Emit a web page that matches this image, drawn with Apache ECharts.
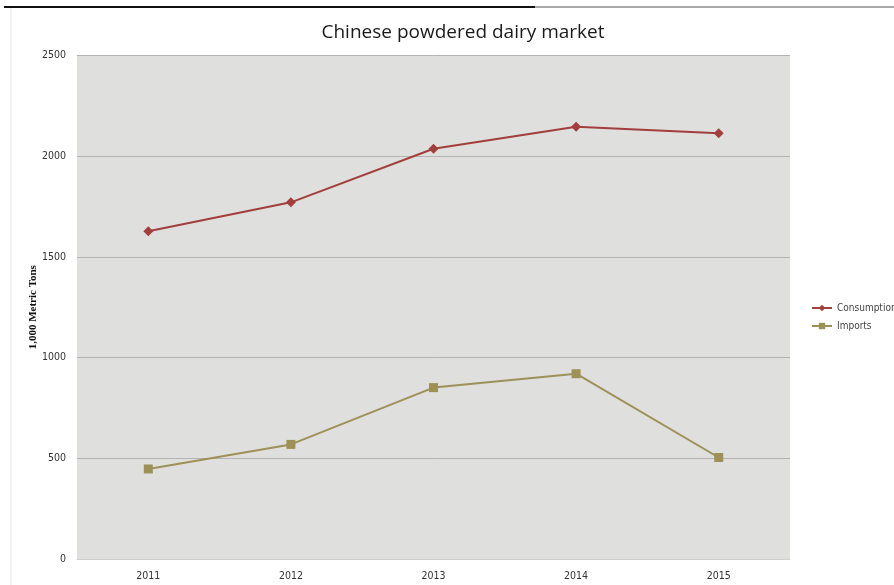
<!DOCTYPE html>
<html><head><meta charset="utf-8">
<script src="https://cdn.jsdelivr.net/npm/echarts@6/dist/echarts.min.js"></script>
<style>html,body{margin:0;padding:0;background:#fff}#c{width:894px;height:585px}</style>
</head><body><div id="c"></div>
<script>
const categories = ['2011','2012','2013','2014','2015'];
const consumption = [1627, 1771, 2037, 2146, 2114];
const imports = [447, 569, 851, 920, 504];
const yTicks = [0, 500, 1000, 1500, 2000, 2500];

const chart = echarts.init(document.getElementById('c'));
chart.setOption({
  backgroundColor: '#ffffff',
  animation: false,
  title: {
    text: 'Chinese powdered dairy market',
    left: 458, top: 18, textAlign: 'center',
    textStyle: {fontFamily: 'Open Sans', fontWeight: 'normal', fontSize: 19, color: '#1a1a1a'}
  },
  graphic: [
    {type: 'line', shape: {x1: 4, y1: 7, x2: 535, y2: 7}, style: {stroke: '#111', lineWidth: 2}},
    {type: 'line', shape: {x1: 535, y1: 7, x2: 894, y2: 7}, style: {stroke: '#555', lineWidth: 1}},
    {type: 'line', shape: {x1: 11, y1: 8, x2: 11, y2: 585}, style: {stroke: '#e6e6e6', lineWidth: 1}}
  ],
  legend: {
    orient: 'vertical', left: 806, top: 298, itemGap: 8, itemWidth: 20, itemHeight: 8,
    textStyle: {fontFamily: 'DejaVu Sans Condensed', fontSize: 10, color: '#444'},
    data: ['Consumption', 'Imports']
  },
  grid: {left: 77, right: 104, top: 55.5, bottom: 26, show: true, backgroundColor: '#dfdfde', borderWidth: 0},
  xAxis: {
    type: 'category', data: categories, boundaryGap: true,
    axisLine: {show: true, lineStyle: {color: '#cfcfcf'}}, axisTick: {show: false},
    axisLabel: {fontFamily: 'DejaVu Sans Condensed', fontSize: 10.5, color: '#333', margin: 12}
  },
  yAxis: {
    type: 'value', min: yTicks[0], max: yTicks[yTicks.length - 1], interval: 500,
    name: '1,000 Metric Tons', nameLocation: 'middle', nameGap: 38, nameMoveOverlap: false,
    nameTextStyle: {fontFamily: 'Liberation Serif', fontWeight: 'bold', fontSize: 11, color: '#111'},
    axisLine: {show: false}, axisTick: {show: false},
    axisLabel: {fontFamily: 'DejaVu Sans Condensed', fontSize: 10.5, color: '#333', margin: 11,
      formatter: v => String(v)},
    splitLine: {lineStyle: {color: '#b3b3b3', width: 1}}
  },
  series: [
    {name: 'Consumption', type: 'line', data: consumption, symbol: 'diamond', symbolSize: 10,
     itemStyle: {color: '#a23f3c'}, lineStyle: {color: '#a23f3c', width: 2}},
    {name: 'Imports', type: 'line', data: imports, symbol: 'rect', symbolSize: 9,
     itemStyle: {color: '#9d9158'}, lineStyle: {color: '#9d9158', width: 2}}
  ]
});
</script></body></html>
